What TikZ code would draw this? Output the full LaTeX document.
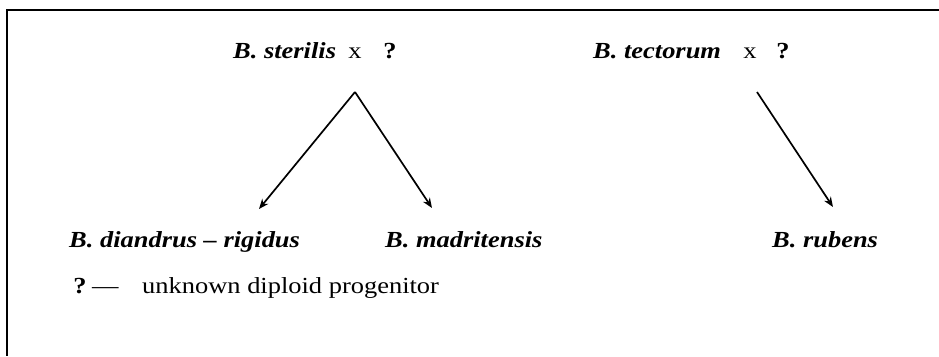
\documentclass[tikz,border=0pt]{standalone}
\usepackage{fontspec}
\setmainfont{Liberation Serif}[FakeStretch=1.15]
\usetikzlibrary{arrows.meta}
\begin{document}
\begin{tikzpicture}[x=1pt,y=-1pt,
  lbl/.style={inner sep=0pt,anchor=base west,font=\fontsize{23}{27}\selectfont},
  sp/.style={lbl,font=\fontsize{23}{27}\selectfont\bfseries\itshape},
  cross/.style={inner sep=0pt,anchor=base,font=\fontsize{23}{27}\selectfont},
  qm/.style={inner sep=0pt,anchor=base,font=\fontsize{23}{27}\selectfont\bfseries},
  arr/.style={line width=1.7pt,-{Stealth[length=10pt,width=8pt]}},
  frame/.style={line width=2pt}]
\useasboundingbox (0,0) rectangle (939,356);
% frame (top and left)
\coordinate (fr1) at (939,10);
\coordinate (fr2) at (7,10);
\coordinate (fr3) at (7,356);
\draw[frame] (fr1) -- (fr2) -- (fr3);
% top row
\node[sp] (ster) at (233,58) {B. sterilis};
\node[cross] (x1) at (355,58) {x};
\node[qm] (q1) at (390,58) {?};
\node[sp] (tect) at (593,58) {B. tectorum};
\node[cross] (x2) at (750,58) {x};
\node[qm] (q2) at (783,58) {?};
% bottom row
\node[sp] (diand) at (69,247) {B. diandrus -- rigidus};
\node[sp] (madr) at (385,247) {B. madritensis};
\node[sp] (rub) at (772,247) {B. rubens};
% legend
\node[qm] (lq) at (80,293) {?};
\node[lbl] (ldash) at (92,293) {---};
\node[lbl] (ltext) at (142,293) {unknown diploid progenitor};
% arrows
\coordinate (a1) at (355,92);
\coordinate (a2) at (757,92);
\coordinate (t1) at (259,209);
\coordinate (t2) at (432,208);
\coordinate (t3) at (833,207);
\draw[arr] (a1) -- (t1);
\draw[arr] (a1) -- (t2);
\draw[arr] (a2) -- (t3);
\end{tikzpicture}
\end{document}
